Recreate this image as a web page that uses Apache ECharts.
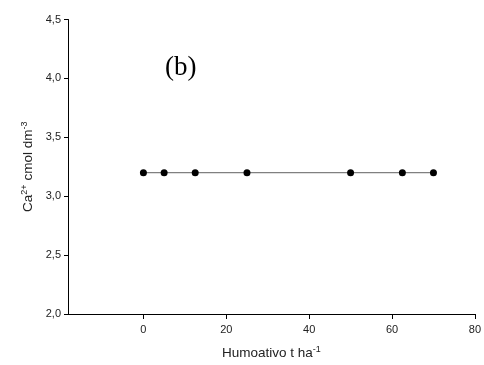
<!DOCTYPE html>
<html><head><meta charset="utf-8">
<script src="https://cdn.jsdelivr.net/npm/echarts@6/dist/echarts.min.js"></script>
<style>html,body{margin:0;padding:0;background:#fff}#c{width:484px;height:365px}</style>
</head><body><div id="c"></div>
<script>
const doses = [0, 5, 12.5, 25, 50, 62.5, 70];
const calcium = [3.2, 3.2, 3.2, 3.2, 3.2, 3.2, 3.2];
const xTicks = [0, 20, 40, 60, 80];
const panelLabel = '(b)';

const chart = echarts.init(document.getElementById('c'));
const font = 'Liberation Sans, Arial, sans-serif';
const nameRich = {
  n: {fontFamily: font, fontSize: 13.5, color: '#222'},
  s: {fontFamily: font, fontSize: 9, color: '#222', verticalAlign: 'top', padding: [0,0,7,0]}
};
chart.setOption({
  animation: false,
  backgroundColor: '#fff',
  title: {
    text: panelLabel, left: 160, top: 49,
    textStyle: {fontFamily: 'Liberation Serif, Times New Roman, serif', fontSize: 27, fontWeight: 'normal', color: '#000'}
  },
  grid: {left: 68, right: 4, top: 19.5, bottom: 50},
  xAxis: {
    type: 'value', min: -18.2, max: 80,
    name: '{n|Humoativo t ha}{s|-1}', nameLocation: 'middle', nameGap: 31,
    nameTextStyle: {rich: nameRich},
    axisLine: {show: true, onZero: false, lineStyle: {color: '#000', width: 1}},
    axisTick: {show: true, customValues: xTicks, length: 5, lineStyle: {color: '#000'}},
    axisLabel: {customValues: xTicks, fontFamily: font, fontSize: 11, color: '#222', margin: 10},
    splitLine: {show: false}
  },
  yAxis: {
    type: 'value', min: 2.0, max: 4.5, interval: 0.5,
    name: '{n|Ca}{s|2+}{n| cmol dm}{s|-3}', nameLocation: 'middle', nameGap: 30, nameRotate: 90,
    nameTextStyle: {rich: nameRich},
    axisLine: {show: true, onZero: false, lineStyle: {color: '#000', width: 1}},
    axisTick: {show: true, length: 4, lineStyle: {color: '#000'}},
    axisLabel: {fontFamily: font, fontSize: 11, color: '#222', margin: 7,
      formatter: v => v.toFixed(1).replace('.', ',')},
    splitLine: {show: false}
  },
  series: [{
    type: 'line', data: doses.map((d, i) => [d, calcium[i]]),
    symbol: 'circle', symbolSize: 7,
    itemStyle: {color: '#000'},
    lineStyle: {color: '#808080', width: 1.3}
  }]
});
</script></body></html>
